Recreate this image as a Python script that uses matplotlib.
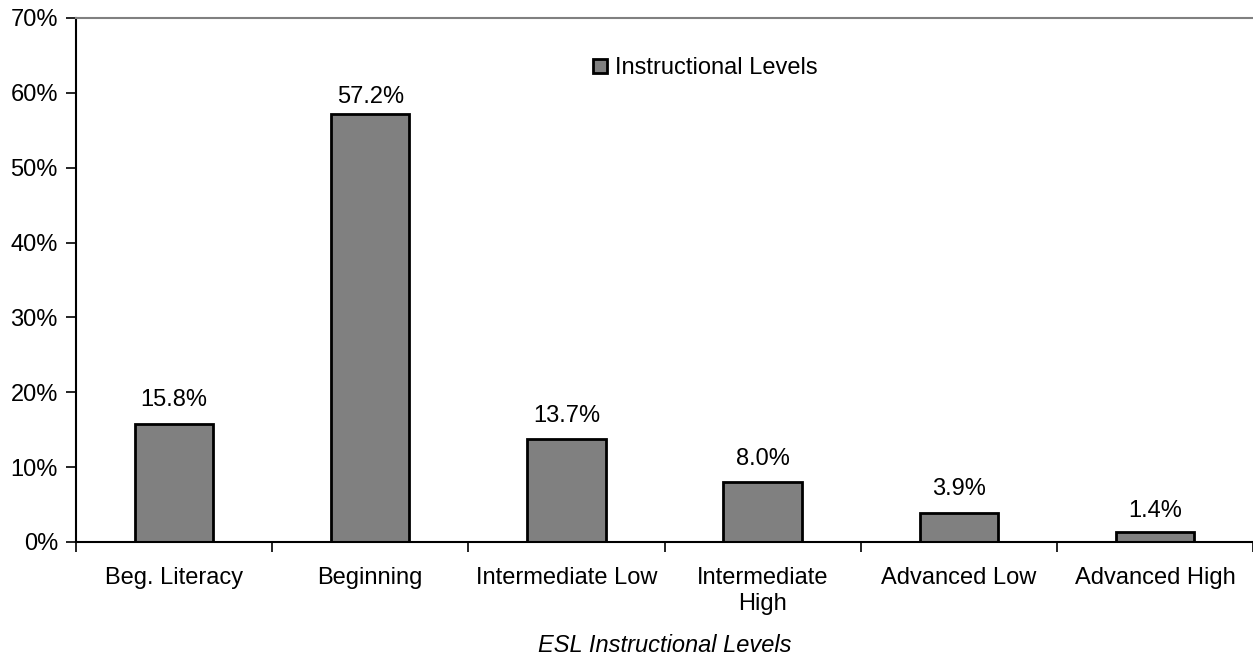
import matplotlib
matplotlib.use("Agg")
import matplotlib.pyplot as plt
from matplotlib.ticker import FuncFormatter, FixedLocator, NullFormatter
from matplotlib.lines import Line2D

plt.rcParams['font.family'] = ['Liberation Sans', 'DejaVu Sans']

categories = ["Beg. Literacy", "Beginning", "Intermediate Low",
              "Intermediate\nHigh", "Advanced Low", "Advanced High"]
values = [15.8, 57.2, 13.7, 8.0, 3.9, 1.4]
series_name = "Instructional Levels"
x_title = "ESL Instructional Levels"
y_ticks = [0, 10, 20, 30, 40, 50, 60, 70]

# vertical gap (points) between each bar top and its value label
label_gaps = [9, 4, 9, 9, 9, 7]

fs = 17
bar_color = "#808080"

fig = plt.figure(figsize=(12.53, 6.59), dpi=100)
ax = fig.add_axes([76 / 1253, 1 - 542 / 659, 1 - 76 / 1253, (542 - 18) / 659])

x = list(range(len(categories)))
bars = ax.bar(x, values, width=0.4, color=bar_color, edgecolor="black", linewidth=2)

for xi, v, g in zip(x, values, label_gaps):
    ax.annotate(f"{v:.1f}%", (xi, v), xytext=(0, g), textcoords="offset points",
                ha="center", va="bottom", fontsize=fs)

ax.set_xlim(-0.5, len(categories) - 0.5)
ax.set_ylim(0, 70)
ax.set_yticks(y_ticks)
ax.yaxis.set_major_formatter(FuncFormatter(lambda v, p: f"{v:.0f}%"))

# category labels centred under bars, tick marks at the boundaries
ax.set_xticks(x)
ax.set_xticklabels(categories, fontsize=fs, linespacing=1.25)
ax.tick_params(axis="x", which="major", length=0, pad=18)
ax.xaxis.set_minor_locator(FixedLocator([i - 0.5 for i in range(len(categories) + 1)]))
ax.xaxis.set_minor_formatter(NullFormatter())
ax.tick_params(axis="x", which="minor", length=7, width=1.2, color="black")
ax.tick_params(axis="y", length=7, width=1.2, labelsize=fs, pad=6)

for side in ("left", "bottom"):
    ax.spines[side].set_color("black")
    ax.spines[side].set_linewidth(1.5)
ax.spines["top"].set_color("#808080")
ax.spines["top"].set_linewidth(1.5)
ax.spines["right"].set_visible(False)

ax.set_xlabel(x_title, fontsize=fs, style="italic")
ax.xaxis.set_label_coords(0.5, (542 - 646) / 524)
ax.xaxis.label.set_va("center")

handle = Line2D([], [], marker="s", linestyle="none", markersize=10,
                markerfacecolor=bar_color, markeredgecolor="black", markeredgewidth=2)
leg = ax.legend([handle], [series_name], loc="center",
                bbox_to_anchor=((705 - 76) / (1253 - 76), (542 - 68) / 524),
                frameon=False, fontsize=fs, handlelength=0.7, handletextpad=0.3,
                borderaxespad=0, borderpad=0)

fig.savefig("out.png", dpi=100)
